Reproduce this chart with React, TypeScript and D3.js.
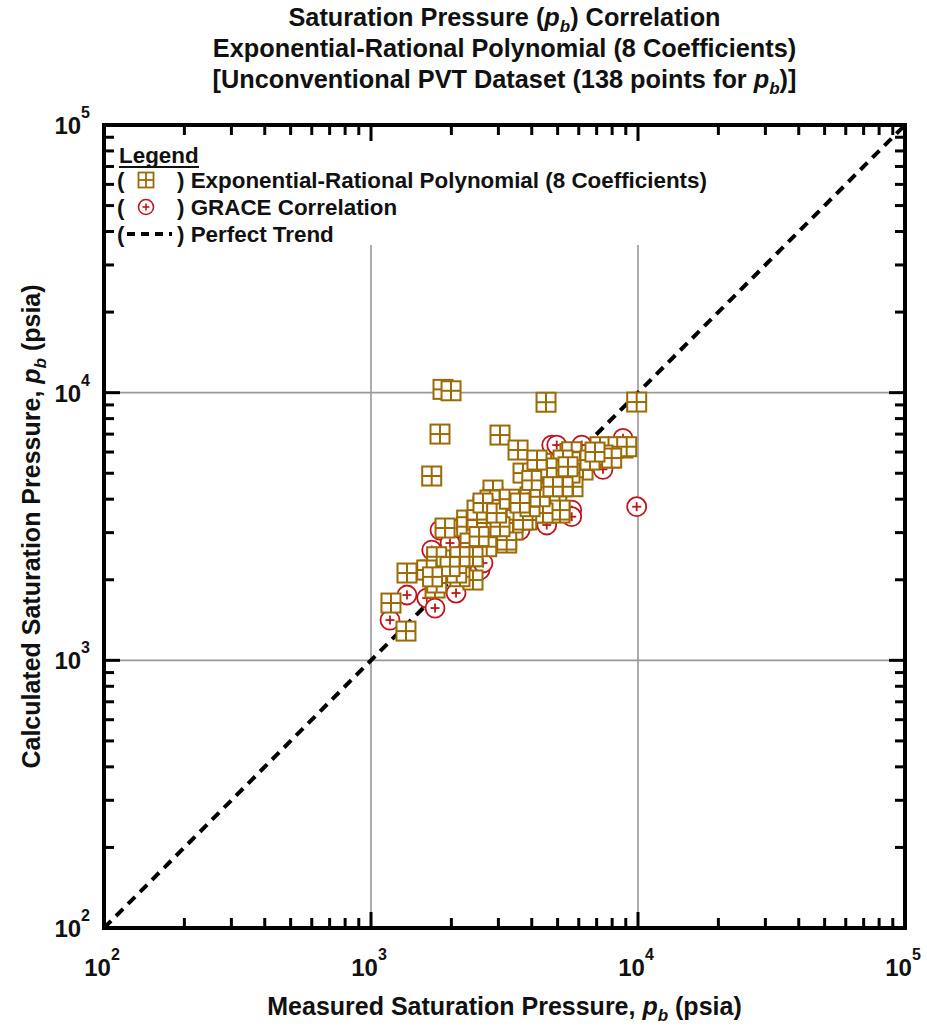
import React from "react";
import * as d3 from "d3";

// Exponential-Rational Polynomial (8 coefficients): measured vs calculated pb (psia)
const measuredEXP = [
  1861, 1994, 4524, 9888, 1813, 3042, 3554, 1688, 3710, 4359, 5104, 5564, 6153, 7636, 8060, 8788,
  7854, 5468, 4044, 4961, 4296, 3122, 2864, 3403, 4552, 5104, 3042, 2282, 1894, 2791, 3223, 2488,
  1762, 1977, 2349, 2154, 2410, 1663, 1737, 1364, 1188, 1352, 2154, 7206, 8417, 9072, 7393, 7970,
  5645, 6064, 5239, 4805, 4408, 6223, 5104, 5710, 5564, 4044, 4552, 3941, 4175, 4683, 5104, 4408,
  3615, 3830, 3223, 3403, 3223, 2282, 2791, 3403, 2349, 2713, 1762, 2410, 1617, 2094, 1762, 2864,
  3223, 2627, 4563, 4185, 5239, 2791, 3710, 2495, 2713, 2627, 2495, 2627, 3042, 3941, 4296, 4805,
  5468, 6612, 6900, 2154, 2954, 3300, 3615, 4000, 2540, 1977, 1700,
];
const calculatedEXP = [
  10287, 10164, 9210, 9224, 7004, 6944, 6105, 4882, 5007, 5444, 5140, 5933, 5287, 6211, 6211, 6211,
  5698, 4648, 4327, 3869, 3642, 3869, 4073, 3440, 3550, 3550, 3440, 3343, 3121, 3067, 2743, 2743,
  2370, 2370, 2438, 2175, 1995, 2175, 1862, 2119, 1637, 1286, 2053, 6281, 6281, 6281, 5848, 5698,
  6016, 5519, 5601, 5140, 5140, 5140, 4716, 4452, 5007, 4452, 4217, 4084, 3869, 3869, 3642, 3550,
  3550, 3343, 3343, 3067, 2814, 3157, 3157, 3259, 2743, 2657, 2438, 2438, 2175, 2119, 1945, 4327,
  3642, 3157, 5230, 5601, 4452, 3971, 3343, 3343, 3259, 3749, 3642, 3870, 3157, 3750, 4084, 4452,
  5287, 5601, 6000, 2438, 3550, 4000, 3870, 4700, 2900, 2240, 2050,
];

// GRACE correlation: measured vs calculated pb (psia)
const measuredGRACE = [
  4752, 4961, 6153, 8788, 7393, 9888, 5645, 5645, 4552, 1813, 1977, 1688, 1364, 1617, 1737, 2082,
  1178, 3554, 2560, 2627, 2154, 3615, 3042, 3830, 4296, 2864, 3403, 4044, 5104, 4683, 2410, 2094,
  1894, 3223, 3710, 4552, 5564, 6064, 7206, 7854, 2627, 3941,
];
const calculatedGRACE = [
  6373, 6373, 6373, 6750, 5171, 3749, 3642, 3440, 3203, 3067, 2743, 2582, 1754, 1709, 1568, 1784,
  1414, 3259, 2175, 2310, 3120, 3067, 3642, 4084, 4452, 3440, 3870, 3750, 4327, 4716, 2743, 2438,
  2314, 3067, 3942, 4882, 4882, 5287, 5848, 6016, 2900, 3550,
];

const axisDomain = [100, 100000];
const majorTicks = [100, 1000, 10000, 100000];
const gridValues = [1000, 10000];
const tickExponents = ["2", "3", "4", "5"];

const legendLabels = [
  "Exponential-Rational Polynomial (8 Coefficients)",
  "GRACE Correlation",
  "Perfect Trend",
];

const W = 927;
const H = 1026;
const L = 104, R = 905, T = 125, B = 928;
const FONT = "'Liberation Sans', Arial, Helvetica, sans-serif";
const SQ = "#9b6a05";
const CI = "#c0151f";

function PbText({ before, after, sub }: { before: string; after: string; sub: number }) {
  return (
    <>
      {before}
      <tspan fontStyle="italic">p</tspan>
      <tspan dy={6} fontSize={sub} fontStyle="italic">b</tspan>
      <tspan dy={-6}>{after}</tspan>
    </>
  );
}

export default function App() {
  const x = d3.scaleLog().domain(axisDomain).range([L, R]);
  const y = d3.scaleLog().domain(axisDomain).range([B, T]);
  const ticks = x.ticks();
  const isMajor = (v: number) => majorTicks.some((m) => Math.abs(m - v) / m < 1e-6);
  const legendBottom = 245;
  const sq = 19;
  const cr = 9.5;

  const squares = measuredEXP.map((m, i) => ({ mx: x(m), cy: y(calculatedEXP[i]) }));
  const circles = measuredGRACE.map((m, i) => ({ mx: x(m), cy: y(calculatedGRACE[i]) }));

  return (
    <svg width={W} height={H} style={{ position: "absolute", left: 0, top: 0, background: "#fff" }} fontFamily={FONT}>
      <rect x={0} y={0} width={W} height={H} fill="#fff" />
      {/* Title */}
      <g fontWeight="bold" fontSize={25.3} textAnchor="middle" fill="#111">
        <text x={(L + R) / 2} y={26}>
          <PbText before="Saturation Pressure (" after=") Correlation" sub={17} />
        </text>
        <text x={(L + R) / 2} y={57}>Exponential-Rational Polynomial (8 Coefficients)</text>
        <text x={(L + R) / 2} y={88}>
          <PbText before="[Unconventional PVT Dataset (138 points for " after=")]" sub={17} />
        </text>
      </g>

      {/* Grid */}
      <g stroke="#999" strokeWidth={1.6}>
        {gridValues.map((v) => (
          <line key={"gx" + v} x1={x(v)} x2={x(v)} y1={legendBottom} y2={B} />
        ))}
        {gridValues.map((v) => (
          <line key={"gy" + v} x1={L} x2={R} y1={y(v)} y2={y(v)} />
        ))}
      </g>

      {/* Perfect trend */}
      <line x1={x(axisDomain[0])} y1={y(axisDomain[0])} x2={x(axisDomain[1])} y2={y(axisDomain[1])}
        stroke="#000" strokeWidth={4} strokeDasharray="10 7" />

      {/* GRACE circles */}
      <g>
        {circles.map((c, i) => (
          <g key={"c" + i} transform={`translate(${c.mx},${c.cy})`}>
            <circle r={cr} fill="#fff" stroke={CI} strokeWidth={1.8} />
            <line x1={-4.5} x2={4.5} y1={0} y2={0} stroke={CI} strokeWidth={1.8} />
            <line x1={0} x2={0} y1={-4.5} y2={4.5} stroke={CI} strokeWidth={1.8} />
          </g>
        ))}
      </g>

      {/* Exponential-Rational squares */}
      <g>
        {squares.map((s, i) => (
          <g key={"s" + i} transform={`translate(${s.mx},${s.cy})`}>
            <rect x={-sq / 2} y={-sq / 2} width={sq} height={sq} fill="#fff" stroke={SQ} strokeWidth={2} />
            <line x1={-sq / 2} x2={sq / 2} y1={0} y2={0} stroke={SQ} strokeWidth={2} />
            <line x1={0} x2={0} y1={-sq / 2} y2={sq / 2} stroke={SQ} strokeWidth={2} />
          </g>
        ))}
      </g>

      {/* Ticks */}
      <g stroke="#000" strokeWidth={3}>
        {ticks.map((v, i) => {
          const len = isMajor(v) ? 16 : 10;
          const px = x(v);
          const py = y(v);
          return (
            <g key={"t" + i}>
              <line x1={px} x2={px} y1={B} y2={B - len} />
              <line x1={px} x2={px} y1={T} y2={T + len} />
              <line x1={L} x2={L + len} y1={py} y2={py} />
              <line x1={R} x2={R - len} y1={py} y2={py} />
            </g>
          );
        })}
      </g>

      {/* Frame */}
      <rect x={L} y={T} width={R - L} height={B - T} fill="none" stroke="#000" strokeWidth={4} />

      {/* Tick labels */}
      <g fontWeight="bold" fill="#111">
        {majorTicks.map((v, i) => (
          <text key={"xl" + i} x={x(v) - 2} y={976} fontSize={24} textAnchor="middle">
            10<tspan dy={-16} fontSize={16}>{tickExponents[i]}</tspan>
          </text>
        ))}
        {majorTicks.map((v, i) => (
          <text key={"yl" + i} x={90} y={y(v) + 9} fontSize={24} textAnchor="end">
            10<tspan dy={-16} fontSize={16}>{tickExponents[i]}</tspan>
          </text>
        ))}
      </g>

      {/* Axis titles */}
      <g fontWeight="bold" fontSize={25} fill="#111" textAnchor="middle">
        <text x={(L + R) / 2} y={1015}>
          <PbText before="Measured Saturation Pressure, " after=" (psia)" sub={17} />
        </text>
        <text transform={`translate(40,${(T + B) / 2}) rotate(-90)`}>
          <PbText before="Calculated Saturation Pressure, " after=" (psia)" sub={17} />
        </text>
      </g>

      {/* Legend */}
      <g fontWeight="bold" fontSize={22.4} fill="#111">
        <text x={119} y={163}>Legend</text>
        <line x1={119} x2={199} y1={167} y2={167} stroke="#111" strokeWidth={2} />
        <text x={117} y={188}>(</text>
        <g transform="translate(146,180)">
          <rect x={-7.5} y={-7.5} width={15} height={15} fill="#fff" stroke={SQ} strokeWidth={1.8} />
          <line x1={-7.5} x2={7.5} y1={0} y2={0} stroke={SQ} strokeWidth={1.8} />
          <line x1={0} x2={0} y1={-7.5} y2={7.5} stroke={SQ} strokeWidth={1.8} />
        </g>
        <text x={177} y={188}>) {legendLabels[0]}</text>
        <text x={117} y={215}>(</text>
        <g transform="translate(146,207)">
          <circle r={7.5} fill="#fff" stroke={CI} strokeWidth={1.6} />
          <line x1={-3.5} x2={3.5} y1={0} y2={0} stroke={CI} strokeWidth={1.6} />
          <line x1={0} x2={0} y1={-3.5} y2={3.5} stroke={CI} strokeWidth={1.6} />
        </g>
        <text x={177} y={215}>) {legendLabels[1]}</text>
        <text x={117} y={242}>(</text>
        <line x1={127} x2={172} y1={234} y2={234} stroke="#000" strokeWidth={4} strokeDasharray="8 6" />
        <text x={177} y={242}>) {legendLabels[2]}</text>
      </g>
    </svg>
  );
}
